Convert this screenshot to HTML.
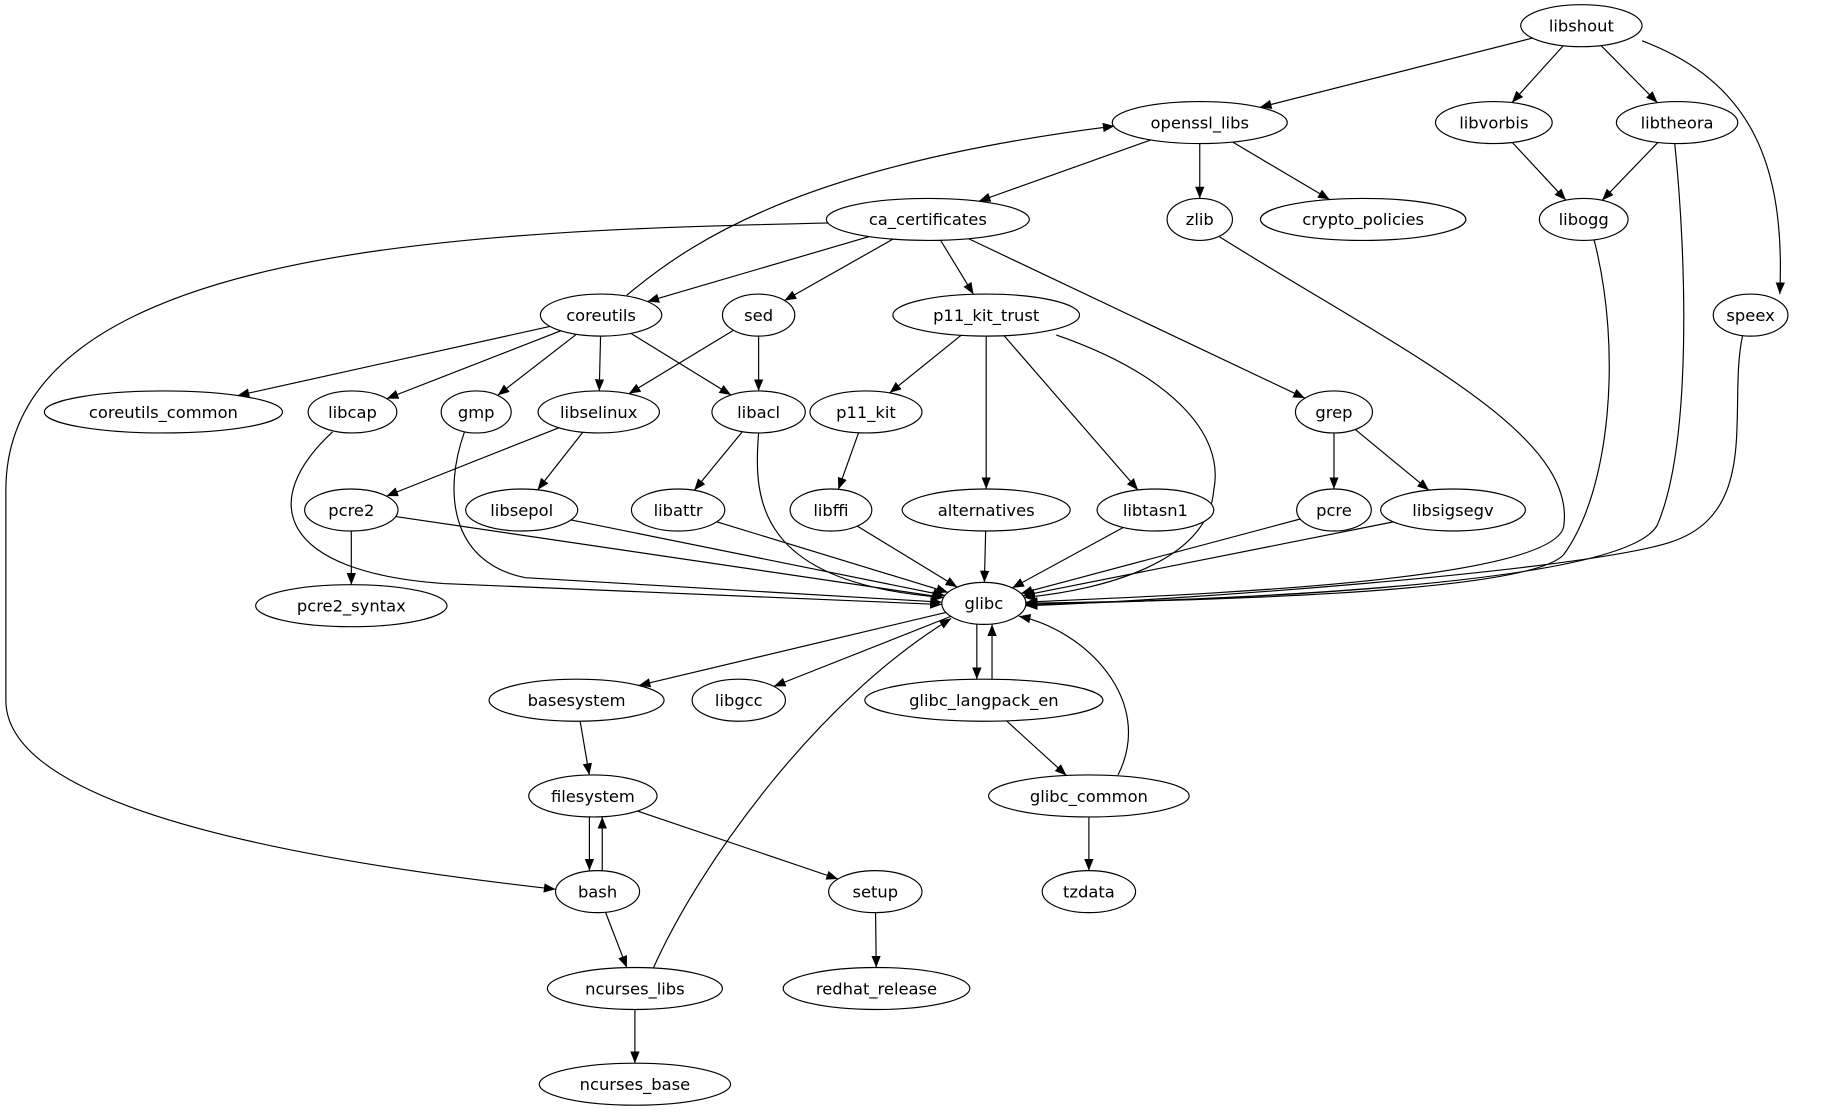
<!DOCTYPE html>
<html><head><meta charset="utf-8"><style>
html,body{margin:0;padding:0;background:#fff;}
svg{display:block;}
text{font-family:"DejaVu Sans","Liberation Sans",sans-serif;font-size:14px;fill:#000;}
</style></head><body>
<svg id="g" xmlns="http://www.w3.org/2000/svg" width="1830" height="1115" viewBox="0 0 1568 955.4">
<defs><marker id="a" markerUnits="userSpaceOnUse" markerWidth="12" markerHeight="10" refX="10" refY="4" orient="auto"><path d="M0,0 L10,4 L0,8 z" fill="#000"/></marker></defs>
<g id="e" fill="none" stroke="#000" stroke-width="1"></g>
<g id="n"></g>
</svg>
<script>
var N={
libshout:[1355,22,52],openssl_libs:[1028,105,75],libvorbis:[1280,105,50],libtheora:[1437,105,52],
ca_certificates:[795,188,87],zlib:[1028,188,28],crypto_policies:[1168,188,88],libogg:[1357,188,38],
speex:[1500,270,32],coreutils:[515,270,52],sed:[650,270,31],p11_kit_trust:[845,270,80],
coreutils_common:[140,353,102],libcap:[302,353,38],gmp:[408,353,30],libselinux:[513,353,52],
libacl:[650,353,40],p11_kit:[742,353,48],grep:[1143,353,33],pcre2:[301,437,40],libsepol:[447,437,48],
libattr:[581,437,40],libffi:[712,437,35],alternatives:[845,437,72],libtasn1:[990,437,50],pcre:[1143,437,32],
libsigsegv:[1245,437,62],glibc:[843,517,36],pcre2_syntax:[301,519,82],basesystem:[494,600,75],
libgcc:[633,600,40],glibc_langpack_en:[843,600,102],filesystem:[508,682,55],glibc_common:[933,682,86],
bash:[512,764,36],setup:[750,764,40],tzdata:[933,764,40],ncurses_libs:[544,847,75],
redhat_release:[751,847,80],ncurses_base:[544,929,82]};
var RY=18;
var S="libshout openssl_libs,libshout libvorbis,libshout libtheora,libvorbis libogg,libtheora libogg,openssl_libs ca_certificates,openssl_libs zlib,openssl_libs crypto_policies,ca_certificates coreutils,ca_certificates sed,ca_certificates p11_kit_trust,ca_certificates grep,coreutils coreutils_common,coreutils libcap,coreutils gmp,coreutils libselinux,coreutils libacl,sed libselinux,sed libacl,p11_kit_trust p11_kit,p11_kit_trust alternatives,p11_kit_trust libtasn1,libselinux pcre2,libselinux libsepol,libacl libattr,p11_kit libffi,grep pcre,grep libsigsegv,pcre2 pcre2_syntax,pcre2 glibc,libsepol glibc,libattr glibc,libffi glibc,alternatives glibc,libtasn1 glibc,pcre glibc,libsigsegv glibc,glibc basesystem,glibc libgcc,glibc_langpack_en glibc_common,basesystem filesystem,filesystem setup,bash ncurses_libs,setup redhat_release,glibc_common tzdata,ncurses_libs ncurses_base".split(",");
var P=[
"M712,191 C400,198 5,210 5,420 L5,600 C5,700 300,742 476,762",
"M537,253 C600,200 700,140 955,108",
"M285,370 C220,430 240,490 380,500 L807,518",
"M398,370 C380,420 385,482 450,495 L807,516",
"M650,371 C645,430 650,500 809,512",
"M905,287 C1000,320 1050,370 1040,420 C1035,480 950,505 877,512",
"M1045,203 C1200,300 1350,370 1340,450 C1335,500 1000,510 879,516",
"M1366,206 C1390,300 1380,420 1340,475 C1310,510 1000,515 879,517",
"M1435,123 C1445,220 1450,380 1420,450 C1390,505 1000,515 879,518",
"M1493,288 C1480,350 1510,440 1430,465 C1350,490 1000,515 879,519",
"M1407,35 C1500,70 1530,140 1525,252",
"M958,664 C990,600 930,540 873,528",
"M560,829 C600,740 700,600 815,530",
"M837,535 L837,582","M850,582 L850,535",
"M505,700 L505,746","M516,746 L516,700"
];
var ns="http://www.w3.org/2000/svg",E=document.getElementById("e"),G=document.getElementById("n");
function pt(n,dx,dy){var t=1/Math.sqrt(dx*dx/(n[2]*n[2])+dy*dy/(RY*RY));return [n[0]+dx*t,n[1]+dy*t];}
function path(d){var p=document.createElementNS(ns,"path");p.setAttribute("d",d);p.setAttribute("marker-end","url(#a)");E.appendChild(p);}
S.forEach(function(s){var k=s.split(" "),a=N[k[0]],b=N[k[1]],dx=b[0]-a[0],dy=b[1]-a[1];
var p1=pt(a,dx,dy),p2=pt(b,-dx,-dy);path("M"+p1[0]+","+p1[1]+" L"+p2[0]+","+p2[1]);});
P.forEach(path);
for(var k in N){var n=N[k],e=document.createElementNS(ns,"ellipse");
e.setAttribute("cx",n[0]);e.setAttribute("cy",n[1]);e.setAttribute("rx",n[2]);e.setAttribute("ry",RY);
e.setAttribute("fill","#fff");e.setAttribute("stroke","#000");G.appendChild(e);
var t=document.createElementNS(ns,"text");t.setAttribute("x",n[0]);t.setAttribute("y",n[1]+5);
t.setAttribute("text-anchor","middle");t.textContent=k;G.appendChild(t);}
</script>
</body></html>
